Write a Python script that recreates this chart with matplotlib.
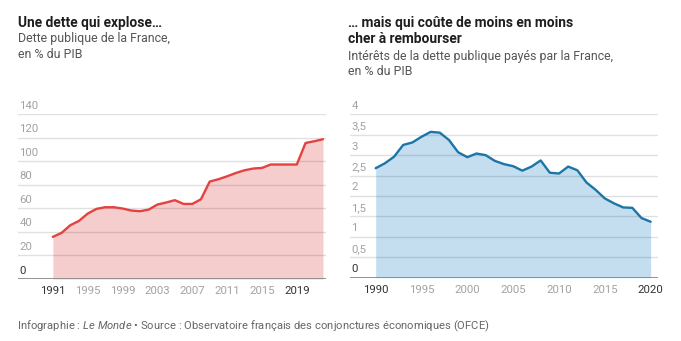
import matplotlib
matplotlib.use("Agg")
import matplotlib.pyplot as plt

# --- data -------------------------------------------------------------
debt_years = list(range(1991, 2023))
debt_pct = [35.8, 39.2, 45.7, 49.4, 55.6, 59.6, 61.0, 61.0, 59.9, 58.2,
            57.6, 59.0, 63.3, 65.0, 67.0, 63.8, 63.8, 67.8, 82.8, 84.8,
            87.3, 90.1, 92.4, 93.9, 94.4, 97.3, 97.3, 97.3, 97.3, 115.6,
            117.1, 118.8]
debt_yticks = [0, 20, 40, 60, 80, 100, 120, 140]
debt_xticks = [1991, 1995, 1999, 2003, 2007, 2011, 2015, 2019]
debt_xticks_dark = [1991, 2019]

int_years = list(range(1990, 2021))
int_pct = [2.68, 2.80, 2.96, 3.25, 3.31, 3.45, 3.57, 3.55, 3.37, 3.07,
           2.95, 3.04, 3.00, 2.86, 2.78, 2.73, 2.62, 2.72, 2.87, 2.57,
           2.55, 2.72, 2.63, 2.33, 2.15, 1.94, 1.82, 1.72, 1.71, 1.46,
           1.37]
int_yticks = [0, 0.5, 1, 1.5, 2, 2.5, 3, 3.5, 4]
int_xticks = [1990, 1995, 2000, 2005, 2010, 2015, 2020]
int_xticks_dark = [1990, 2020]

# --- style ------------------------------------------------------------
W, H = 681, 341
FONT = ["Roboto", "DejaVu Sans"]
plt.rcParams["font.family"] = FONT
plt.rcParams["mathtext.fontset"] = "custom"
plt.rcParams["mathtext.rm"] = "Roboto"
plt.rcParams["mathtext.it"] = "Roboto:italic"

RED, RED_FILL = "#e5413f", "#f6cdcd"
BLUE, BLUE_FILL = "#1c75a7", "#c4deef"
GRID = (0, 0, 0, 0.12)
BASE = "#8a8a8a"
TICK_GREY = "#a2a2a2"
TICK_DARK = "#333333"

fig = plt.figure(figsize=(W / 100, H / 100), dpi=100)


def fig_px(x, y):
    return x / W, 1 - y / H


def panel(rect, years, values, yticks, xticks, dark, xlim, line_c, fill_c, fmt):
    ax = fig.add_axes(rect)
    ax.set_xlim(*xlim)
    ax.set_ylim(yticks[0], yticks[-1])
    ax.axis("off")
    ax.fill_between(years, values, 0, color=fill_c, lw=0, zorder=1)
    for v in yticks[1:]:
        ax.axhline(v, color=GRID, lw=1, zorder=2)
    ax.axhline(0, color=BASE, lw=1.3, zorder=3)
    ax.plot(years, values, color=line_c, lw=1.7, zorder=4,
            solid_joinstyle="round", solid_capstyle="round")
    ytrans = ax.get_yaxis_transform()
    for v in yticks:
        ax.annotate(fmt(v), xy=(0, v), xycoords=ytrans, xytext=(1.5, 3.5),
                    textcoords="offset pixels", ha="left", va="bottom",
                    fontsize=8.2, color=TICK_DARK if v == 0 else TICK_GREY,
                    annotation_clip=False)
    for yr in xticks:
        ax.annotate(str(yr), xy=(yr, 0), xycoords="data", xytext=(0, -12.5),
                    textcoords="offset pixels", ha="center", va="center",
                    fontsize=8.2, color=TICK_DARK if yr in dark else TICK_GREY,
                    annotation_clip=False)
    return ax


def fmt_int(v):
    return f"{v:g}"


def fmt_dec(v):
    return f"{v:g}".replace(".", ",")


panel([18 / W, 1 - 279 / H, 308 / W, (279 - 114.3) / H],
      debt_years, debt_pct, debt_yticks, debt_xticks, debt_xticks_dark,
      (1987.0, 2022.35), RED, RED_FILL, fmt_int)

panel([350 / W, 1 - 277.7 / H, 308 / W, (277.7 - 114.3) / H],
      int_years, int_pct, int_yticks, int_xticks, int_xticks_dark,
      (1987.2, 2020.8), BLUE, BLUE_FILL, fmt_dec)

# --- titles -----------------------------------------------------------
TITLE_KW = dict(fontsize=9.9, fontweight="bold", color="#1e1e1e", va="center", ha="left")
SUB_KW = dict(fontsize=8.9, color="#555555", va="center", ha="left")

fig.text(*fig_px(18, 22.7), "Une dette qui explose…", **TITLE_KW)
fig.text(*fig_px(18, 38.3), "Dette publique de la France,", **SUB_KW)
fig.text(*fig_px(18, 54.0), "en % du PIB", **SUB_KW)

fig.text(*fig_px(348, 22.7), "… mais qui coûte de moins en moins", **TITLE_KW)
fig.text(*fig_px(348, 39.3), "cher à rembourser", **TITLE_KW)
fig.text(*fig_px(348, 56.7), "Intérêts de la dette publique payés par la France,", **SUB_KW)
fig.text(*fig_px(348, 71.7), "en % du PIB", **SUB_KW)

# --- footer -----------------------------------------------------------
fig.text(*fig_px(17, 326.5),
         r"Infographie : $\mathit{Le\ Monde}$ • Source : Observatoire français "
         r"des conjonctures économiques (OFCE)",
         fontsize=8.1, color="#666666", va="center", ha="left")

fig.savefig("out.png", dpi=100, facecolor="white")
